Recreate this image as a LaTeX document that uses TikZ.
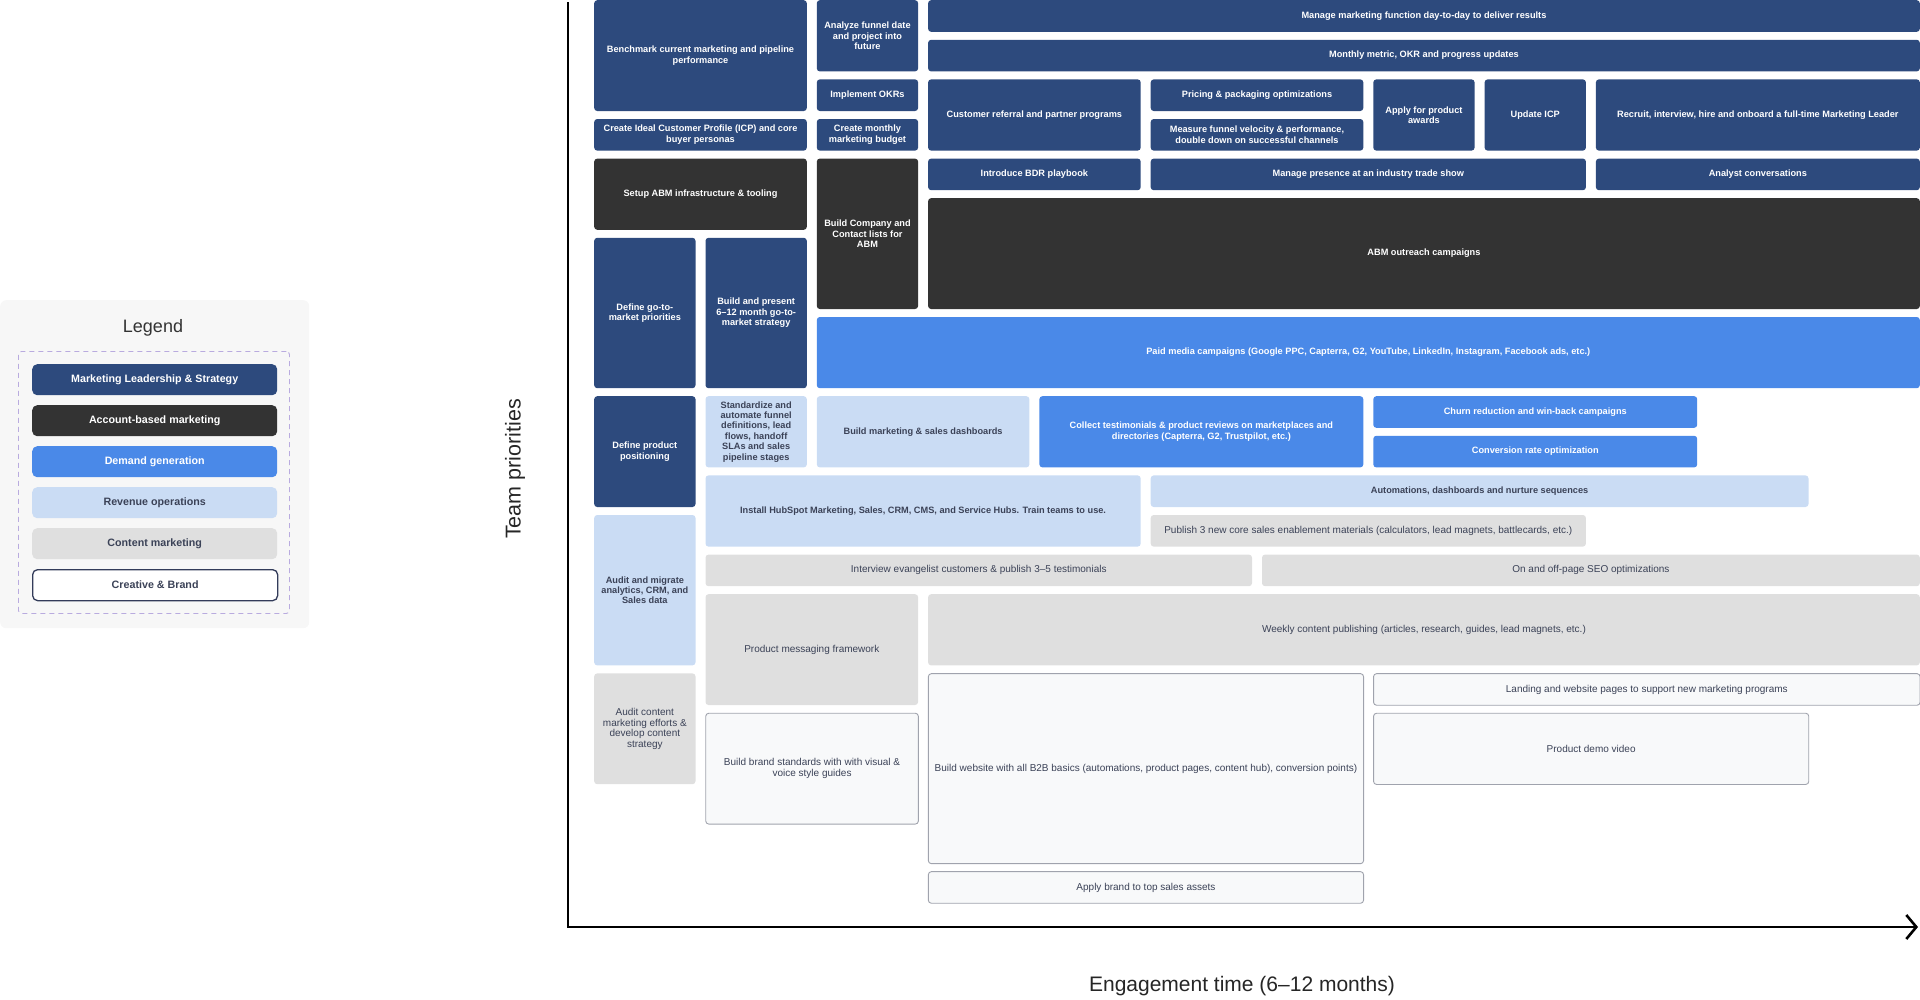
\documentclass[tikz,border=0pt]{standalone}
\usepackage{fontspec}
\setmainfont{Liberation Sans}
\usepackage{tikz}
\usetikzlibrary{arrows.meta}
\definecolor{cnavy}{HTML}{2D4A7D}
\definecolor{cabm}{HTML}{333333}
\definecolor{cdemand}{HTML}{4A89E8}
\definecolor{crevops}{HTML}{CADCF4}
\definecolor{ccontent}{HTML}{DFDFDF}
\definecolor{cbrandfill}{HTML}{F8F9FA}
\definecolor{cbrandline}{HTML}{A0A3AD}
\definecolor{cink}{HTML}{3B4257}
\definecolor{cpanel}{HTML}{F7F7F7}
\definecolor{cdash}{HTML}{B9ABDF}
\definecolor{ckeyline}{HTML}{333C5A}

\begin{document}
\begin{tikzpicture}[x=1pt, y=-1pt]
\useasboundingbox (0,0) rectangle (1920,999);
% Define styles
\tikzstyle{taskbox} = [rectangle, rounded corners=3pt, anchor=north west, align=center, inner sep=2pt, font=\fontsize{9.2}{10.4}\selectfont\bfseries]
\tikzstyle{leadbox} = [taskbox, fill=cnavy, text=white]
\tikzstyle{abmbox} = [taskbox, fill=cabm, text=white]
\tikzstyle{demandbox} = [taskbox, fill=cdemand, text=white]
\tikzstyle{opsbox} = [taskbox, fill=crevops, text=cink]
\tikzstyle{contentbox} = [taskbox, fill=ccontent, text=cink, font=\fontsize{10}{10.6}\selectfont]
\tikzstyle{brandbox} = [taskbox, fill=cbrandfill, draw=cbrandline, line width=0.9pt, text=cink, font=\fontsize{10}{10.6}\selectfont]
\tikzstyle{keybox} = [minimum width=245pt, minimum height=31pt, rounded corners=5pt, font=\fontsize{10.7}{12}\selectfont\bfseries]
\tikzstyle{axis} = [line width=2.6pt, -{Straight Barb[length=10pt, width=24pt]}]

% Legend
\node (legendbg) [fill=cpanel, rounded corners=6pt, anchor=north west, minimum width=309pt, minimum height=328pt] at (0,300) {};
\node (legendtitle) [font=\fontsize{18}{21}\selectfont, text=black!80] at (153,328) {Legend};
\node (legendframe) [draw=cdash, line width=0.9pt, dash pattern=on 5pt off 4pt, rounded corners=3pt, anchor=north west, minimum width=271pt, minimum height=262pt] at (18,351) {};
\node (keylead) [leadbox, keybox] at (32,364) {Marketing Leadership \& Strategy};
\node (keyabm) [abmbox, keybox] at (32,405) {Account-based marketing};
\node (keydemand) [demandbox, keybox] at (32,446) {Demand generation};
\node (keyops) [opsbox, keybox] at (32,487) {Revenue operations};
\node (keycontent) [contentbox, keybox] at (32,528) {Content marketing};
\node (keybrand) [brandbox, keybox, fill=white, draw=ckeyline, line width=1.3pt] at (32,569) {Creative \& Brand};

% Place nodes: leadership
\node (bench) [leadbox, minimum width=212.6pt, minimum height=110.8pt] at (594,0) {Benchmark current marketing and pipeline\\performance};
\node (funnel) [leadbox, minimum width=101.3pt, minimum height=71.2pt] at (816.6,0) {Analyze funnel date\\and project into\\future};
\node (manage) [leadbox, minimum width=991.7pt, minimum height=31.6pt] at (927.9,0) {Manage marketing function day-to-day to deliver results};
\node (monthly) [leadbox, minimum width=991.7pt, minimum height=31.6pt] at (927.9,39.6) {Monthly metric, OKR and progress updates};
\node (okrs) [leadbox, minimum width=101.3pt, minimum height=31.6pt] at (816.6,79.2) {Implement OKRs};
\node (referral) [leadbox, minimum width=212.6pt, minimum height=71.2pt] at (927.9,79.2) {Customer referral and partner programs};
\node (pricing) [leadbox, minimum width=212.6pt, minimum height=31.6pt] at (1150.5,79.2) {Pricing \& packaging optimizations};
\node (awards) [leadbox, minimum width=101.3pt, minimum height=71.2pt] at (1373.1,79.2) {Apply for product\\awards};
\node (updicp) [leadbox, minimum width=101.3pt, minimum height=71.2pt] at (1484.4,79.2) {Update ICP};
\node (recruit) [leadbox, minimum width=323.9pt, minimum height=71.2pt] at (1595.7,79.2) {Recruit, interview, hire and onboard a full-time Marketing Leader};
\node (icp) [leadbox, minimum width=212.6pt, minimum height=31.6pt] at (594,118.8) {Create Ideal Customer Profile (ICP) and core\\buyer personas};
\node (budget) [leadbox, minimum width=101.3pt, minimum height=31.6pt] at (816.6,118.8) {Create monthly\\marketing budget};
\node (velocity) [leadbox, minimum width=212.6pt, minimum height=31.6pt] at (1150.5,118.8) {Measure funnel velocity \& performance,\\double down on successful channels};
\node (bdr) [leadbox, minimum width=212.6pt, minimum height=31.6pt] at (927.9,158.4) {Introduce BDR playbook};
\node (tradeshow) [leadbox, minimum width=435.2pt, minimum height=31.6pt] at (1150.5,158.4) {Manage presence at an industry trade show};
\node (analyst) [leadbox, minimum width=323.9pt, minimum height=31.6pt] at (1595.7,158.4) {Analyst conversations};
\node (gtm) [leadbox, minimum width=101.3pt, minimum height=150.4pt] at (594,237.6) {Define go-to-\\market priorities};
\node (gtmplan) [leadbox, minimum width=101.3pt, minimum height=150.4pt] at (705.3,237.6) {Build and present\\6–12 month go-to-\\market strategy};
\node (positioning) [leadbox, minimum width=101.3pt, minimum height=110.8pt] at (594,396) {Define product\\positioning};

% account-based marketing
\node (abmsetup) [abmbox, minimum width=212.6pt, minimum height=71.2pt] at (594,158.4) {Setup ABM infrastructure \& tooling};
\node (abmlists) [abmbox, minimum width=101.3pt, minimum height=150.4pt] at (816.6,158.4) {Build Company and\\Contact lists for\\ABM};
\node (outreach) [abmbox, minimum width=991.7pt, minimum height=110.8pt] at (927.9,198) {ABM outreach campaigns};

% demand generation
\node (paidmedia) [demandbox, minimum width=1103pt, minimum height=71.2pt] at (816.6,316.8) {Paid media campaigns (Google PPC, Capterra, G2, YouTube, LinkedIn, Instagram, Facebook ads, etc.)};
\node (reviews) [demandbox, minimum width=323.9pt, minimum height=71.2pt] at (1039.2,396) {Collect testimonials \& product reviews on marketplaces and\\directories (Capterra, G2, Trustpilot, etc.)};
\node (churn) [demandbox, minimum width=323.9pt, minimum height=31.6pt] at (1373.1,396) {Churn reduction and win-back campaigns};
\node (cro) [demandbox, minimum width=323.9pt, minimum height=31.6pt] at (1373.1,435.6) {Conversion rate optimization};

% revenue operations
\node (funneldefs) [opsbox, minimum width=101.3pt, minimum height=71.2pt] at (705.3,396) {Standardize and\\automate funnel\\definitions, lead\\flows, handoff\\SLAs and sales\\pipeline stages};
\node (dashboards) [opsbox, minimum width=212.6pt, minimum height=71.2pt] at (816.6,396) {Build marketing \& sales dashboards};
\node (hubspot) [opsbox, minimum width=435.2pt, minimum height=71.2pt] at (705.3,475.2) {Install HubSpot Marketing, Sales, CRM, CMS, and Service Hubs. Train teams to use.};
\node (nurture) [opsbox, minimum width=657.8pt, minimum height=31.6pt] at (1150.5,475.2) {Automations, dashboards and nurture sequences};
\node (migrate) [opsbox, minimum width=101.3pt, minimum height=150.4pt] at (594,514.8) {Audit and migrate\\analytics, CRM, and\\Sales data};

% content marketing
\node (enablement) [contentbox, minimum width=435.2pt, minimum height=31.6pt] at (1150.5,514.8) {Publish 3 new core sales enablement materials (calculators, lead magnets, battlecards, etc.)};
\node (interviews) [contentbox, minimum width=546.5pt, minimum height=31.6pt] at (705.3,554.4) {Interview evangelist customers \& publish 3–5 testimonials};
\node (seo) [contentbox, minimum width=657.8pt, minimum height=31.6pt] at (1261.8,554.4) {On and off-page SEO optimizations};
\node (messaging) [contentbox, minimum width=212.6pt, minimum height=110.8pt] at (705.3,594) {Product messaging framework};
\node (weekly) [contentbox, minimum width=991.7pt, minimum height=71.2pt] at (927.9,594) {Weekly content publishing (articles, research, guides, lead magnets, etc.)};
\node (contentaudit) [contentbox, minimum width=101.3pt, minimum height=110.8pt] at (594,673.2) {Audit content\\marketing efforts \&\\develop content\\strategy};

% creative and brand
\node (website) [brandbox, minimum width=435.2pt, minimum height=190pt] at (927.9,673.2) {Build website with all B2B basics (automations, product pages, content hub), conversion points)};
\node (landing) [brandbox, minimum width=546.5pt, minimum height=31.6pt] at (1373.1,673.2) {Landing and website pages to support new marketing programs};
\node (brandstd) [brandbox, minimum width=212.6pt, minimum height=110.8pt] at (705.3,712.8) {Build brand standards with with visual \&\\voice style guides};
\node (demovideo) [brandbox, minimum width=435.2pt, minimum height=71.2pt] at (1373.1,712.8) {Product demo video};
\node (salesassets) [brandbox, minimum width=435.2pt, minimum height=31.6pt] at (927.9,871.2) {Apply brand to top sales assets};

% Axes
\coordinate (ytop) at (568,2);
\coordinate (origin) at (568,927);
\coordinate (xend) at (1918,927);
\draw [axis] (ytop) -- (origin) -- (xend);
\node (ylabel) [rotate=90, font=\fontsize{21.5}{24}\selectfont, text=black!85] at (515,469) {Team priorities};
\node (xlabel) [font=\fontsize{21}{24}\selectfont, text=black!85] at (1242,986) {Engagement time (6–12 months)};
\end{tikzpicture}
\end{document}
